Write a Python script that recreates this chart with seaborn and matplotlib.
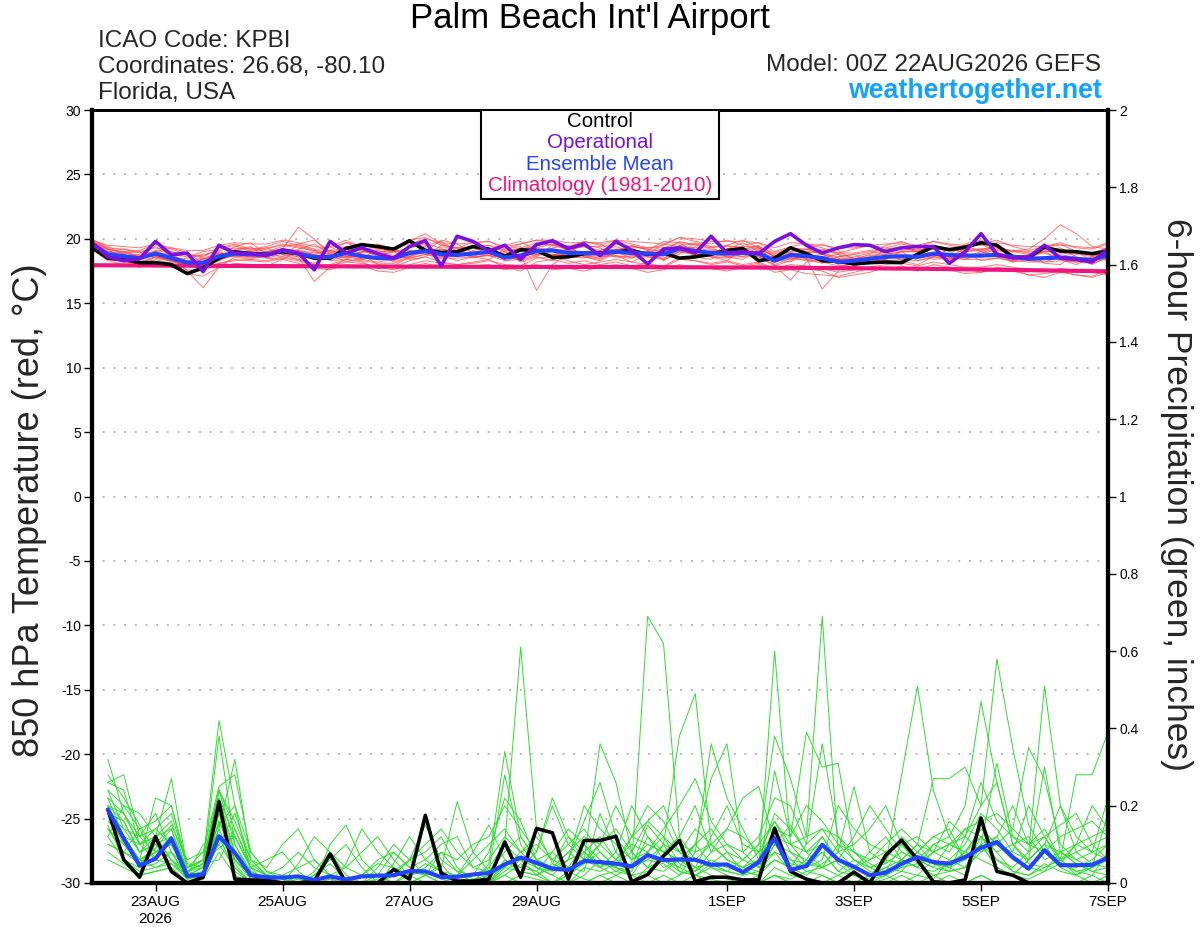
import matplotlib
matplotlib.use("Agg")
import matplotlib.pyplot as plt
import numpy as np
import pandas as pd
import seaborn as sns
from matplotlib.patches import Rectangle

# ---------------- data ----------------
temp_times = pd.date_range("2026-08-22 00:00", periods=65, freq="6h")
precip_times = pd.date_range("2026-08-22 06:00", periods=64, freq="6h")
clim_times = pd.date_range("2026-08-22", periods=17, freq="D")

tick_dates = ["2026-08-23", "2026-08-25", "2026-08-27", "2026-08-29",
              "2026-09-01", "2026-09-03", "2026-09-05", "2026-09-07"]
tick_labels = ["23AUG\n2026", "25AUG", "27AUG", "29AUG", "1SEP", "3SEP", "5SEP", "7SEP"]
left_ticks = [30, 25, 20, 15, 10, 5, 0, -5, -10, -15, -20, -25, -30]
right_ticks = [0, 0.2, 0.4, 0.6, 0.8, 1, 1.2, 1.4, 1.6, 1.8, 2]
right_labels = ["0", "0.2", "0.4", "0.6", "0.8", "1", "1.2", "1.4", "1.6", "1.8", "2"]

# 850 hPa temperature (deg C)
control_t = [19.3, 18.5, 18.4, 18.15, 18.15, 18.0, 17.3, 17.75, 18.5, 19.0, 18.85, 18.8, 19.0,
             18.85, 18.5, 18.5, 19.25, 19.55, 19.4, 19.2, 19.85, 19.1, 18.95, 19.0, 19.4, 19.2,
             18.65, 19.15, 19.1, 18.55, 18.6, 18.85, 18.9, 19.0, 19.1, 18.8, 18.9, 18.5, 18.6,
             18.8, 19.1, 19.25, 18.3, 18.5, 19.3, 18.85, 18.3, 18.25, 18.05, 18.15, 18.2, 18.15,
             18.8, 19.4, 19.15, 19.35, 19.7, 19.5, 18.6, 18.55, 19.35, 19.05, 19.0, 18.85, 19.05]
operational_t = [19.7, 18.6, 18.3, 18.45, 19.8, 18.75, 18.9, 17.45, 19.5, 18.9, 18.85, 18.7, 19.15,
                 18.9, 17.6, 19.8, 18.9, 19.3, 18.85, 18.5, 19.4, 19.85, 17.9, 20.2, 19.8, 19.05,
                 19.5, 18.4, 19.55, 19.85, 19.25, 19.6, 18.7, 19.8, 19.1, 18.05, 19.2, 19.3, 18.9,
                 20.2, 18.9, 19.0, 18.85, 19.8, 20.4, 19.5, 18.9, 19.3, 19.55, 19.5, 19.0, 19.3,
                 19.4, 19.4, 18.1, 19.0, 20.4, 18.8, 18.5, 18.6, 19.5, 18.5, 18.4, 18.2, 19.2]
mean_t = [19.6, 18.8, 18.65, 18.5, 18.85, 18.5, 18.15, 18.15, 18.65, 18.85, 18.8, 18.75, 19.1,
          18.85, 18.6, 18.6, 18.9, 18.65, 18.5, 18.5, 18.9, 19.05, 18.8, 18.75, 18.85, 19.0,
          18.55, 18.7, 19.05, 19.1, 18.9, 18.9, 18.85, 19.0, 18.9, 18.85, 18.8, 19.25, 19.05,
          18.9, 18.85, 18.9, 18.85, 18.3, 18.75, 18.65, 18.5, 18.2, 18.3, 18.45, 18.6, 18.65,
          18.6, 18.85, 18.75, 18.7, 18.7, 18.75, 18.6, 18.45, 18.5, 18.55, 18.45, 18.35, 18.75]
climatology_t = [17.95, 17.93, 17.9, 17.88, 17.86, 17.84, 17.83, 17.82, 17.82, 17.8, 17.78,
                 17.75, 17.72, 17.68, 17.62, 17.55, 17.48]

# ensemble members, tenths of deg C
t_members = [
    [198,190,192,189,194,188,186,190,192,195,190,192,196, 194,190,188,193,191,187,190,198,204,196,192,194,195,
     190,193,197,195,192,194,191,196,194,192,190,198,195, 193,195,192,194,188,192,190,189,186,188,190,191,193,
     190,195,192,191,192,194,190,188,190,192,189,188,192],
    [195,185,183,180,184,181,176,175,181,183,184,183,186, 184,180,179,182,181,178,176,180,183,181,180,182,184,
     178,175,182,184,181,183,180,182,179,181,178,184,183, 180,182,179,181,176,178,177,175,170,172,174,178,177,
     176,180,178,177,174,176,175,172,170,174,172,171,176],
    [197,191,186,188,190,187,183,179,185,191,193,190,192, 191,188,191,197,192,186,183,187,194,190,186,191,193,
     183,186,193,196,191,187,185,192,193,186,184,195,196, 192,189,186,191,185,184,186,188,185,180,182,188,190,
     183,186,192,195,190,186,183,187,189,184,182,186,190],
    [196,189,190,186,187,182,180,184,189,187,185,186,190, 190,188,184,186,190,191,187,185,188,192,190,186,187,
     189,190,188,187,192,194,190,186,185,190,192,191,188, 186,185,191,193,186,190,192,188,184,186,189,190,184,
     188,192,186,184,189,191,188,183,184,188,190,187,185],
    [194,187,188,184,188,186,175,162,178,186,188,189,190, 188,186,185,188,186,184,186,190,192,189,187,190,189,
     184,188,160,180,188,190,190,189,188,187,189,192,190, 188,190,188,187,182,186,185,161,175,184,186,187,186,
     185,188,186,186,188,187,185,184,186,185,184,183,186],
    [200,192,190,191,196,192,188,186,193,196,192,194,198, 195,191,194,199,193,189,192,199,201,195,193,197,198,
     192,196,199,197,194,198,195,199,196,193,195,201,198, 196,199,195,197,190,194,196,193,189,192,195,193,196,
     193,198,195,193,196,199,194,191,194,197,193,192,196],
    [192,183,180,178,182,178,173,171,178,181,180,179,184, 181,177,176,180,179,175,174,178,181,178,177,179,180,
     176,178,180,176,177,175,178,180,177,174,176,180,178, 177,175,178,180,174,176,173,172,171,174,177,176,179,
     175,177,176,173,174,178,176,172,173,175,172,170,174],
    [197,192,184,180,186,190,188,185,183,192,194,185,184, 192,196,188,182,185,192,190,184,186,195,193,186,184,
     192,194,186,183,190,195,193,187,182,188,196,194,186, 184,192,197,190,184,182,189,192,188,180,184,192,194,
     190,184,185,193,196,190,182,184,191,193,186,180,186],
    [195,187,189,190,185,183,185,188,190,186,184,190,194, 196,192,183,184,190,188,182,186,195,198,190,185,188,
     190,182,186,195,194,186,184,190,194,192,184,188,197, 194,186,184,192,187,190,184,181,186,188,182,184,191,
     192,186,184,190,192,186,182,188,190,184,180,186,194],
    [196,186,185,184,190,186,183,184,188,190,189,190,192, 209,200,188,186,190,193,190,189,191,192,190,189,191,
     188,188,192,192,191,190,190,192,190,190,189,194,193, 191,190,190,190,184,189,188,186,184,185,187,188,190,
     190,194,192,190,191,193,190,192,200,211,204,194,192],
    [194,185,184,182,186,183,179,180,185,187,186,185,188, 186,167,178,184,183,181,181,185,188,185,185,186,187,
     183,184,188,188,186,186,186,187,186,186,185,190,188, 186,186,186,186,180,185,184,182,179,180,182,183,184,
     183,186,185,184,184,185,183,182,182,183,182,181,185],
    [199,194,188,184,190,193,189,181,186,194,197,188,186, 196,199,190,185,189,196,192,186,190,199,196,189,187,
     195,198,190,186,193,198,196,190,185,191,198,197,190, 188,195,199,193,186,185,192,196,191,184,188,195,198,
     193,188,188,196,199,194,186,187,194,196,190,183,189],
    [195,184,182,186,191,189,180,178,183,188,191,193,188, 184,181,189,193,188,180,179,186,192,187,183,186,192,
     187,183,187,193,195,186,183,189,195,191,183,190,194, 186,183,192,195,179,183,190,189,180,178,186,190,183,
     180,186,192,189,183,185,191,189,181,180,188,189,184],
    [198,192,189,186,188,184,183,185,189,188,186,188,192, 191,189,191,187,184,187,190,191,188,185,190,193,189,
     187,191,193,190,186,185,191,194,190,186,187,195,192, 189,186,188,193,187,185,183,186,188,185,183,184,190,
     190,188,184,186,190,192,187,183,182,186,189,186,183],
    [194,189,190,187,186,183,181,180,184,187,190,189,189, 186,185,185,186,184,182,184,188,189,186,187,188,187,
     185,186,189,188,187,188,188,186,187,188,187,190,188, 188,189,188,186,179,168,182,184,181,181,184,186,186,
     185,187,186,185,186,187,185,184,184,185,184,183,187],
    [194,186,182,181,186,183,179,177,181,184,183,182,185, 183,179,180,184,182,177,178,183,186,182,180,181,183,
     180,179,185,186,183,180,182,184,182,180,179,185,183, 181,183,180,182,177,180,179,177,174,176,178,180,181,
     179,182,180,178,178,180,178,176,175,177,175,174,172],
    [199,195,194,193,196,193,191,191,195,197,196,196,199, 197,194,193,197,195,193,193,196,200,197,196,197,198,
     194,196,199,199,197,197,197,199,198,197,196,201,200, 198,198,198,197,193,197,196,195,193,193,195,196,197,
     195,198,196,195,195,197,195,194,194,195,194,193,197],
    [198,193,192,190,193,190,187,187,191,193,192,193,195, 193,191,190,194,192,190,190,193,196,193,193,194,195,
     191,192,195,196,194,194,194,196,194,193,193,197,196, 194,194,194,194,189,193,192,191,189,189,191,192,193,
     191,194,193,192,192,193,191,190,190,191,190,189,193],
]

# 6-hour precipitation (inches)
control_p = [0.19, 0.06, 0.015, 0.12, 0.03, 0.0, 0.015, 0.21, 0.01, 0.008, 0.007, 0.0, 0.0, 0.005,
             0.075, 0.0, 0.0, 0.0, 0.035, 0.01, 0.175, 0.025, 0.005, 0.005, 0.01, 0.106, 0.015, 0.141,
             0.13, 0.01, 0.11, 0.11, 0.121, 0.003, 0.022, 0.07, 0.11, 0.004, 0.015, 0.015, 0.008, 0.008,
             0.142, 0.03, 0.01, 0.0, 0.0, 0.028, 0.0, 0.072, 0.111, 0.06, 0.003, 0.0, 0.008, 0.168,
             0.03, 0.02, 0.0, 0.0, 0.0, 0.0, 0.0, 0.0]
mean_p = [0.19, 0.115, 0.045, 0.063, 0.115, 0.018, 0.022, 0.121, 0.078, 0.02, 0.015, 0.014, 0.017,
          0.008, 0.017, 0.009, 0.017, 0.019, 0.02, 0.031, 0.03, 0.015, 0.016, 0.022, 0.026, 0.048,
          0.066, 0.052, 0.037, 0.034, 0.057, 0.054, 0.05, 0.043, 0.072, 0.059, 0.061, 0.06, 0.047,
          0.048, 0.028, 0.054, 0.116, 0.034, 0.044, 0.099, 0.06, 0.042, 0.02, 0.027, 0.05, 0.067,
          0.054, 0.05, 0.067, 0.091, 0.106, 0.067, 0.037, 0.085, 0.046, 0.046, 0.047, 0.066]

# ensemble members, hundredths of an inch
p_members = [
    [32,18,10,12,27,4,6,42, 20,3,1,0,0,2,5,1, 0,0,3,6,8,12,4,1, 2,10,61,14,5,3,8,12,
     6,4,15,10,3,2,5,8, 3,2,10,5,4,8,3,2, 1,2,6,4,3,5,8,12, 6,3,2,5,3,2,4,6],
    [28,22,15,8,12,3,4,14, 32,6,2,1,0,0,1,0, 2,5,4,2,3,1,0,0, 5,34,12,6,8,4,10,6,
     3,5,69,62,12,6,4,3, 2,5,8,3,6,12,5,2, 0,1,3,8,5,4,6,10, 4,2,1,3,8,5,3,2],
    [26,28,12,18,8,2,10,12, 12,4,0,0,0,0,0,0, 0,0,0,2,5,3,0,0, 0,5,4,8,20,10,6,36,
     26,8,4,10,38,49,10,6, 4,8,12,6,3,4,2,0, 2,3,10,5,2,3,4,12, 8,3,2,4,6,3,2,8],
    [22,12,6,22,20,5,4,38, 10,2,0,0,1,0,0,0, 0,1,0,3,2,4,21,8, 3,28,10,4,3,6,8,5,
     4,3,12,8,6,10,27,36, 8,4,60,10,5,8,3,6, 4,5,8,6,10,12,20,47, 26,10,5,4,6,2,5,4],
    [20,16,8,10,15,6,8,25, 28,8,3,2,0,0,2,0, 0,0,5,12,6,3,2,8, 15,6,3,2,4,8,5,10,
     6,12,20,16,8,4,5,3, 6,10,38,27,12,69,8,4, 2,4,6,10,5,3,4,8, 12,6,4,3,5,10,8,6],
    [18,10,5,8,10,2,2,22, 8,1,0,0,0,0,0,0, 0,0,0,0,0,0,0,0, 0,2,5,3,0,0,2,6,
     4,2,8,12,5,3,6,4, 3,2,29,12,39,30,31,8, 5,3,4,5,8,10,12,20, 58,35,15,8,5,4,6,10],
    [15,6,4,5,8,1,3,18, 6,1,0,0,0,0,0,0, 0,0,0,0,0,0,0,0, 0,0,2,1,0,3,1,0,
     2,4,6,5,2,8,10,6, 4,3,6,4,2,5,8,25, 8,5,28,51,24,12,6,10, 31,12,8,51,20,8,5,6],
    [12,20,18,12,6,3,5,6, 14,5,2,0,0,0,0,0, 0,0,0,0,2,8,3,0, 0,3,6,4,2,0,4,3,
     5,8,4,3,6,10,5,3, 2,3,8,6,5,4,6,3, 0,2,6,10,27,27,30,20, 26,10,6,30,8,5,3,4],
    [10,8,14,6,5,2,1,20, 5,0,0,0,0,0,0,0, 0,0,0,0,0,0,0,0, 0,0,0,0,0,2,5,8,
     4,2,3,6,4,2,1,0, 0,0,4,2,1,0,2,4, 6,8,10,6,4,3,12,8, 10,14,35,27,10,6,8,22],
    [8,5,2,3,4,0,1,12, 3,0,0,0,0,0,0,0, 0,0,0,0,0,0,0,0, 0,0,0,0,0,0,0,2,
     3,2,0,0,2,4,2,1, 0,0,2,1,3,2,0,0, 2,4,3,2,1,6,4,10, 6,4,8,12,5,3,4,6],
    [26,24,10,14,18,4,8,10, 18,6,4,10,14,6,2,0, 0,2,8,4,6,10,12,4, 6,12,8,4,2,6,20,14,
     10,6,10,8,12,20,8,14, 22,25,10,8,6,4,10,8, 4,6,5,8,12,10,8,14, 10,6,4,8,6,28,28,39],
    [24,14,8,10,12,2,4,24, 10,3,1,0,5,12,8,2, 0,0,2,6,15,6,3,2, 8,22,16,6,4,8,12,10,
     20,12,16,20,10,8,36,22, 14,6,18,14,8,10,6,4, 8,12,6,4,8,6,10,18, 14,8,6,10,20,12,8,10],
    [20,12,6,9,14,3,6,9, 12,4,6,8,3,0,10,15, 6,2,0,0,2,5,0,0, 0,4,8,10,6,4,3,18,
     8,4,6,10,8,14,10,6, 4,6,14,12,20,16,10,6, 3,2,4,8,12,14,6,10, 12,20,10,12,15,18,10,6],
    [16,12,10,6,12,3,2,18, 6,2,0,0,0,0,0,5, 14,8,4,2,0,0,0,0, 2,4,3,2,5,12,8,4,
     6,10,8,4,6,3,8,10, 6,4,10,15,8,12,6,4, 2,6,12,8,5,4,8,6, 4,2,6,10,8,6,4,18],
    [14,8,5,10,6,2,2,16, 8,2,0,0,0,0,0,0, 0,0,0,0,0,0,0,0, 0,0,0,0,0,0,0,0,
     0,0,0,0,0,0,0,0, 0,0,2,0,0,0,0,0, 0,0,0,0,0,2,0,0, 0,0,0,0,0,0,0,0],
    [18,14,12,8,8,4,6,24, 16,6,2,0,0,0,0,0, 0,0,0,0,0,0,0,2, 4,10,6,2,0,2,6,4,
     2,0,4,6,3,2,4,2, 0,2,6,4,10,36,12,6, 4,2,0,2,6,4,2,10, 4,2,6,10,4,2,0,2],
    [12,6,3,4,5,1,2,14, 4,0,0,0,0,0,0,0, 0,0,0,0,0,0,0,0, 0,0,0,0,0,0,0,0,
     0,0,2,0,0,0,0,0, 0,0,0,0,0,2,0,0, 0,0,0,0,0,0,0,2, 0,0,0,0,0,0,0,0],
    [22,18,12,14,10,3,5,20, 8,2,0,2,4,6,2,0, 0,4,10,6,2,0,0,0, 0,6,4,3,8,14,10,4,
     8,20,12,6,4,10,14,8, 6,10,16,8,4,6,20,14, 10,8,6,4,10,8,14,12, 8,10,12,6,8,10,12,14],
    [10,8,6,4,6,1,2,10, 4,0,0,0,0,0,0,0, 0,0,0,0,0,0,0,0, 0,0,0,0,0,0,0,0,
     0,0,0,0,0,0,0,0, 0,0,0,0,0,0,0,0, 0,0,0,0,0,0,0,0, 0,0,0,0,0,0,0,0],
    [24,20,14,16,20,4,6,15, 20,8,3,1,0,2,6,10, 4,0,2,6,10,14,8,4, 3,8,12,6,4,6,16,26,
     12,6,8,14,20,27,16,10, 8,12,22,20,10,14,12,8, 6,10,14,10,8,16,12,26, 16,12,10,14,6,8,10,12],
    [6,4,2,3,4,0,1,8, 2,0,0,0,0,0,0,0, 0,0,0,0,0,0,0,0, 0,0,0,0,0,0,0,0,
     0,0,0,2,0,0,0,0, 0,0,0,0,0,0,0,0, 0,0,0,0,2,0,0,0, 0,0,0,0,0,0,0,0],
    [18,16,8,12,14,2,4,22, 12,4,2,0,0,3,8,4, 2,6,8,4,2,0,2,6, 10,14,8,12,6,10,14,8,
     4,12,10,8,6,4,12,20, 10,8,12,10,8,4,6,12, 20,14,8,6,4,10,8,14, 10,8,20,12,6,10,20,14],
    [14,10,6,8,10,2,3,16, 6,2,0,0,2,0,0,0, 0,0,0,0,0,0,0,0, 0,2,0,0,0,0,0,2,
     0,0,0,0,0,2,0,0, 0,0,2,0,0,0,0,0, 0,0,2,0,0,0,0,2, 0,0,0,0,0,0,2,0],
    [20,18,10,12,16,3,5,24, 14,4,2,4,8,4,2,4, 8,12,6,2,4,8,6,10, 12,20,14,8,22,12,6,10,
     14,8,16,12,8,6,10,14, 12,8,16,10,12,14,8,10, 14,20,10,12,8,10,14,16, 18,14,10,8,12,14,16,12],
]

# ---------------- styling ----------------
C_CONTROL = "#000000"
C_OPER = "#7a10e0"
C_MEAN = "#2244ff"
C_CLIM = "#f0147e"
C_TMEM = "#ff4a4a"
C_PMEM = "#2fdc2f"
C_WEB = "#14a2ff"

sns.set_theme(style="white")
plt.rcParams['font.family'] = ['Liberation Sans', 'DejaVu Sans']
plt.rcParams['axes.unicode_minus'] = False

fig = plt.figure(figsize=(12, 9.27), dpi=100)
ax = fig.add_axes([92 / 1200, 1 - 883 / 927, 1016 / 1200, 773 / 927])
ax2 = ax.twinx()

# temperature ensemble members
for m in t_members:
    sns.lineplot(x=temp_times, y=np.array(m) / 10.0, ax=ax, color=C_TMEM,
                 lw=0.7, alpha=0.75, legend=False)
sns.lineplot(x=clim_times, y=climatology_t, ax=ax, color=C_CLIM, lw=3, legend=False)
sns.lineplot(x=temp_times, y=control_t, ax=ax, color=C_CONTROL, lw=2.6, legend=False)
sns.lineplot(x=temp_times, y=mean_t, ax=ax, color=C_MEAN, lw=3, legend=False)
sns.lineplot(x=temp_times, y=operational_t, ax=ax, color=C_OPER, lw=2.6, legend=False)

# precipitation
for m in p_members:
    sns.lineplot(x=precip_times, y=np.array(m) / 100.0, ax=ax2, color=C_PMEM,
                 lw=0.7, legend=False)
sns.lineplot(x=precip_times, y=control_p, ax=ax2, color=C_CONTROL, lw=2.6, legend=False)
sns.lineplot(x=precip_times, y=mean_p, ax=ax2, color=C_MEAN, lw=3, legend=False)

# axes limits / ticks
xlim = (pd.Timestamp("2026-08-22 00:00"), pd.Timestamp("2026-09-07 00:00"))
ax.set_xlim(*xlim)
ax2.set_xlim(*xlim)
ax.set_ylim(-30, 30)
ax2.set_ylim(0, 2)
ax.set_yticks(left_ticks)
ax.set_yticklabels([str(v) for v in left_ticks])
ax2.set_yticks(right_ticks)
ax2.set_yticklabels(right_labels)
ax.set_xticks([pd.Timestamp(d) for d in tick_dates])
ax.set_xticklabels(tick_labels)

for v in left_ticks[1:-1]:
    ax.axhline(v, color="#b8b8b8", lw=1.4, ls=(0, (1, 4.5)), zorder=0)

ax.tick_params(axis="y", direction="out", length=6, width=1, labelsize=10, pad=2,
               left=True, colors="black")
ax.tick_params(axis="x", direction="out", length=6, width=1, labelsize=11, pad=3,
               bottom=True, colors="black")
ax2.tick_params(axis="y", direction="out", length=6, width=1, labelsize=10, pad=2,
                right=True, colors="black")
ax.set_xlabel("")
ax.set_ylabel("")
ax2.set_ylabel("")
ax2.set_xlabel("")

for a in (ax, ax2):
    for side in ("left", "bottom", "right"):
        a.spines[side].set_linewidth(3)
        a.spines[side].set_color("black")
    a.spines["top"].set_linewidth(2)
    a.spines["top"].set_color("black")
ax.grid(False)
ax2.grid(False)

# legend box
ax2.add_patch(Rectangle(((481 - 92) / 1016, 1 - (199 - 110) / 773), (719 - 481) / 1016,
                        (199 - 110) / 773, transform=ax2.transAxes, facecolor="white",
                        edgecolor="black", lw=1.5, zorder=10))
leg_items = [("Control", C_CONTROL, 126.5), ("Operational", C_OPER, 148),
             ("Ensemble Mean", C_MEAN, 170), ("Climatology (1981-2010)", C_CLIM, 191)]
for txt, col, yb in leg_items:
    fig.text(600 / 1200, 1 - yb / 927, txt, color=col, fontsize=14.8, ha="center",
             va="baseline", zorder=11)

# header texts
fig.text(590 / 1200, 1 - 28 / 927, "Palm Beach Int'l Airport", fontsize=25, ha="center",
         va="baseline", color="black")
fig.text(98 / 1200, 1 - 47 / 927, "ICAO Code: KPBI", fontsize=17.5, ha="left", va="baseline")
fig.text(98 / 1200, 1 - 73 / 927, "Coordinates: 26.68, -80.10", fontsize=17.5, ha="left",
         va="baseline")
fig.text(98 / 1200, 1 - 99 / 927, "Florida, USA", fontsize=17.5, ha="left", va="baseline")
fig.text(1101 / 1200, 1 - 71 / 927, "Model: 00Z 22AUG2026 GEFS", fontsize=17.5, ha="right",
         va="baseline")
fig.text(1102 / 1200, 1 - 98 / 927, "weathertogether.net", fontsize=19.3, fontweight="bold",
         ha="right", va="baseline", color=C_WEB)

# axis titles
fig.text(30 / 1200, 1 - 510 / 927, "850 hPa Temperature (red, °C)", fontsize=26,
         rotation=90, ha="center", va="center")
fig.text(1176 / 1200, 1 - 495 / 927, "6-hour Precipitation (green, inches)", fontsize=25.5,
         rotation=270, ha="center", va="center")

fig.savefig("out.png", dpi=100, facecolor="white")
